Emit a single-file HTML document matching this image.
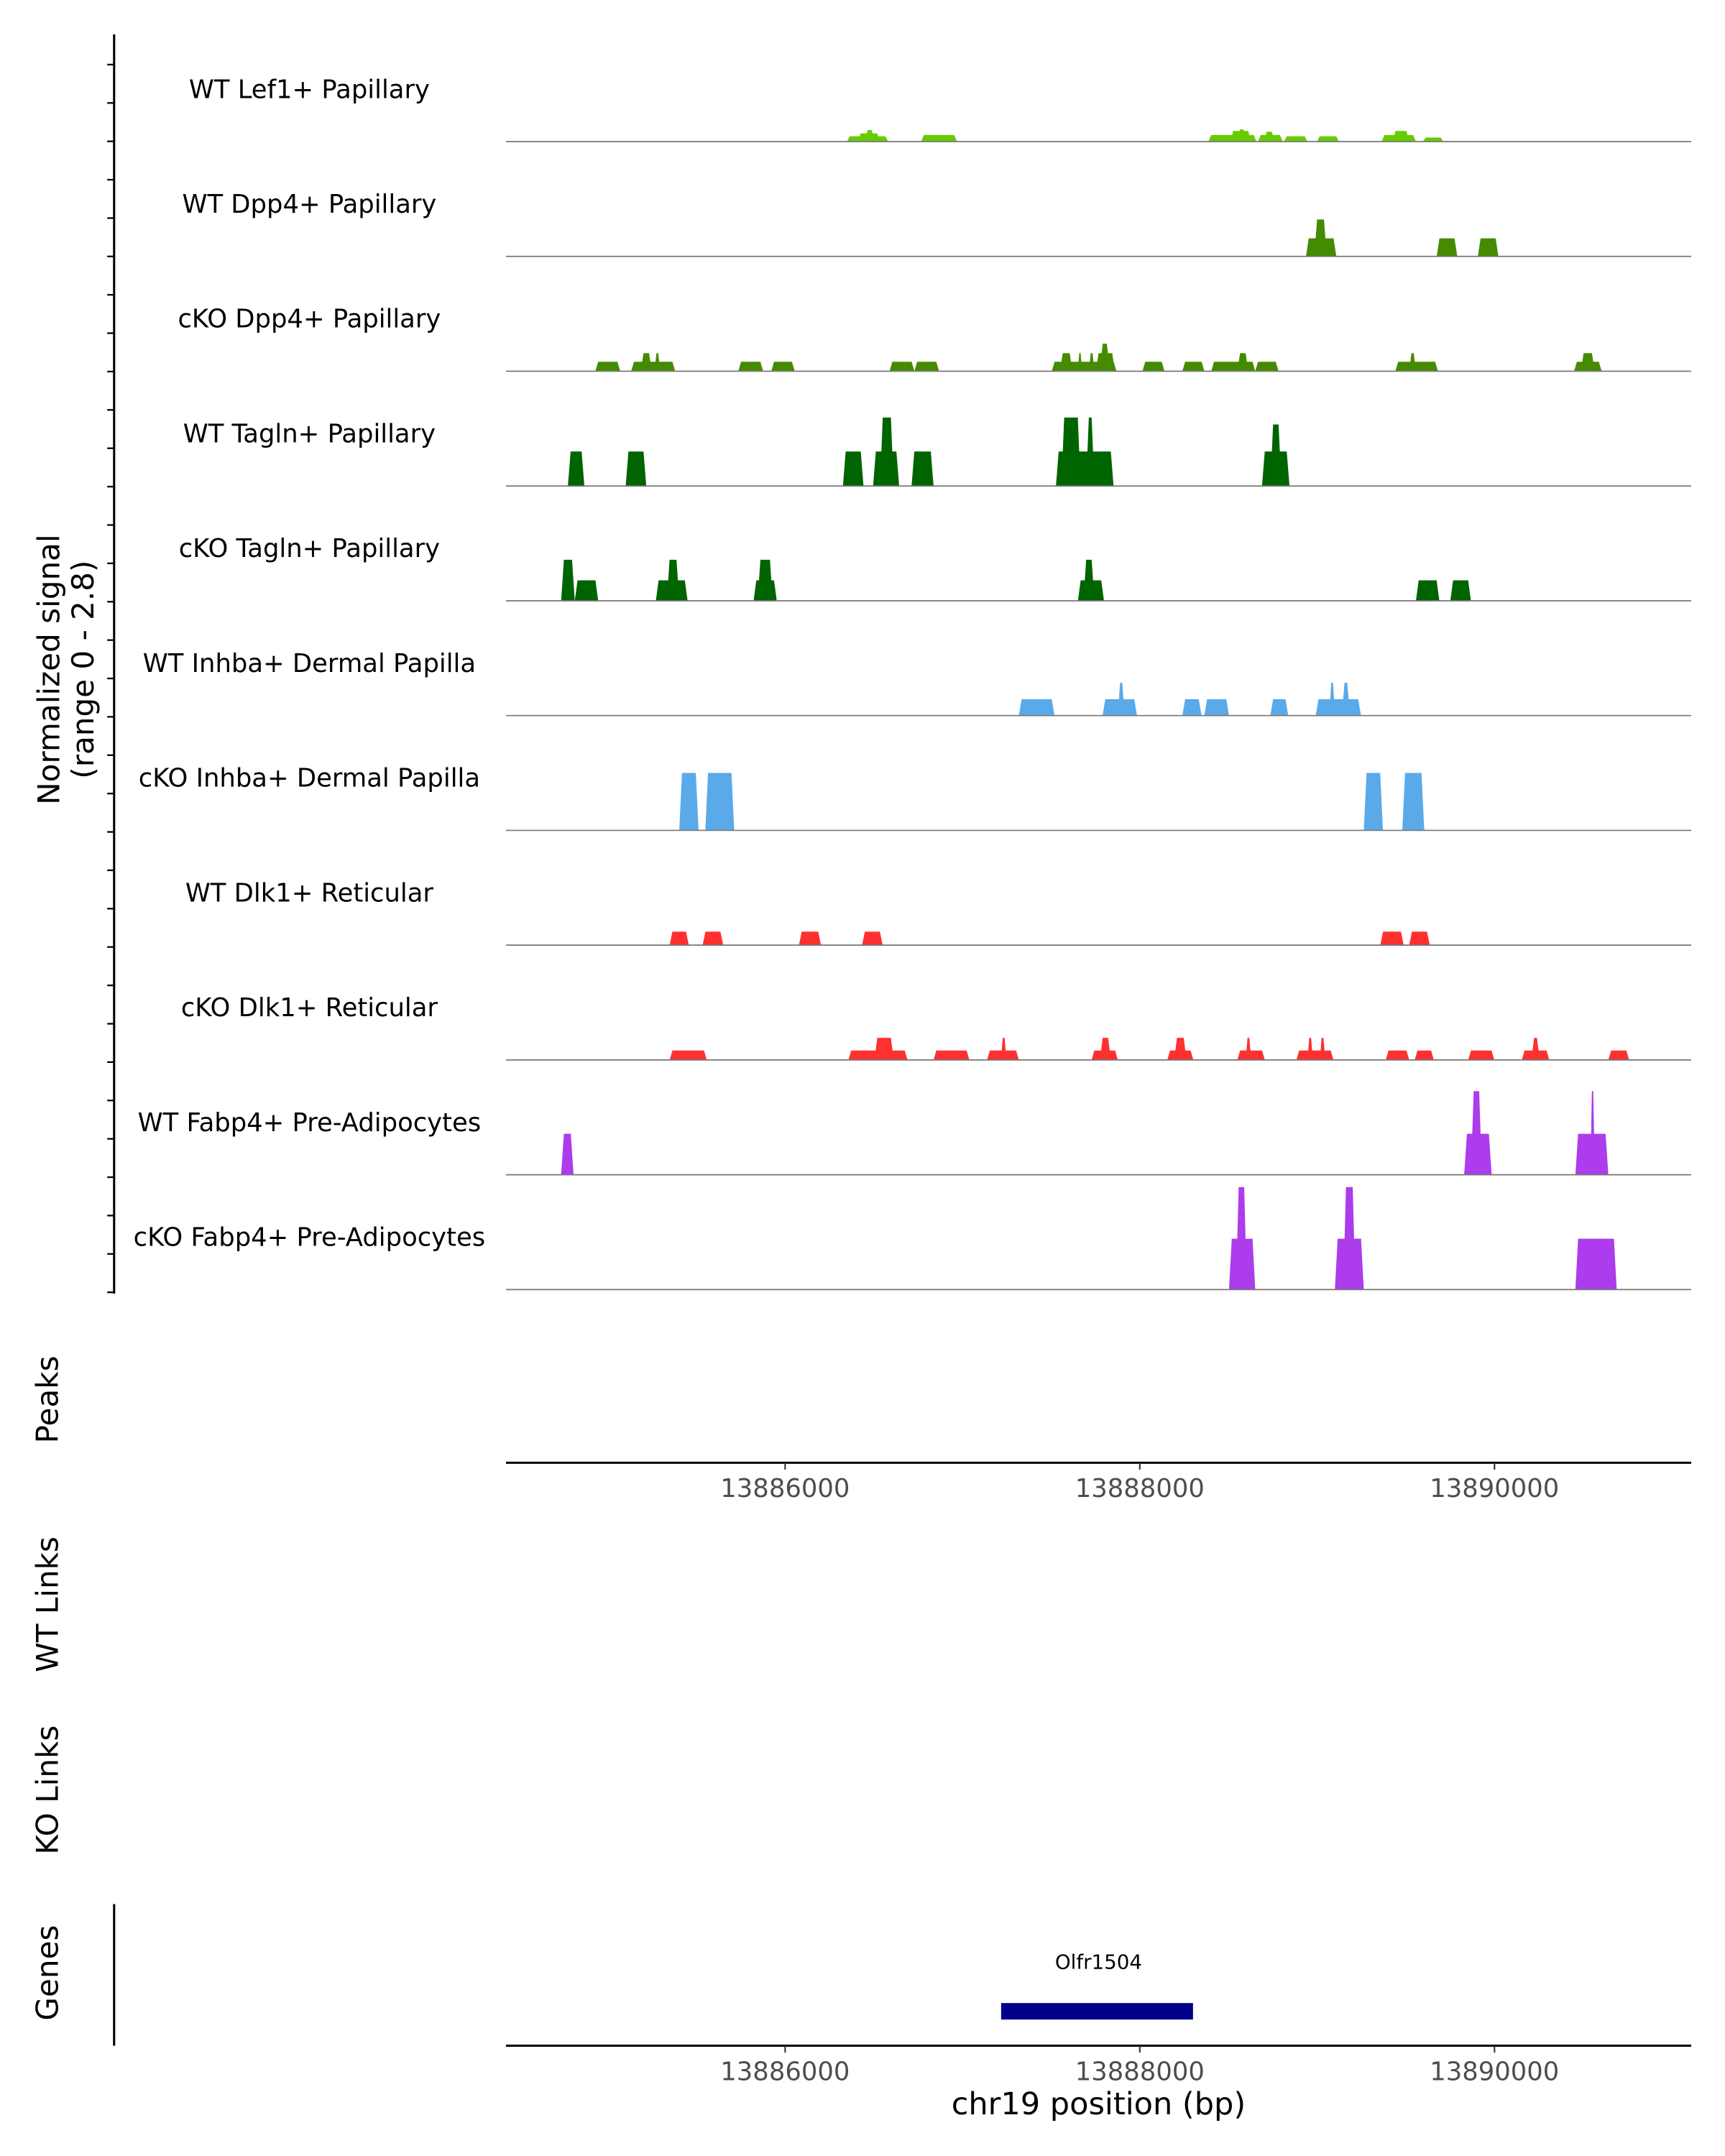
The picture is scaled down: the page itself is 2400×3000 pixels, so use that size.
<!DOCTYPE html>
<html><head><meta charset="utf-8"><style>
html,body{margin:0;padding:0;background:#fff;}
svg{display:block;font-family:"DejaVu Sans","Liberation Sans",sans-serif;}
</style></head><body>
<svg id="chart" width="2400" height="3000" viewBox="0 0 1254.6 1568.25" preserveAspectRatio="none" xmlns="http://www.w3.org/2000/svg">
<g id="static">
<line x1="83" y1="25" x2="83" y2="941" stroke="#000" stroke-width="1.6"/>
<g id="yticks"></g>
<text transform="translate(43,487) rotate(-90)" text-anchor="middle" font-size="22">Normalized signal</text>
<text transform="translate(68,487) rotate(-90)" text-anchor="middle" font-size="22">(range 0 - 2.8)</text>
<text transform="translate(42,1018) rotate(-90)" text-anchor="middle" font-size="22">Peaks</text>
<line x1="368" y1="1064" x2="1230" y2="1064" stroke="#000" stroke-width="1.6"/>
<text transform="translate(42,1167) rotate(-90)" text-anchor="middle" font-size="22">WT Links</text>
<text transform="translate(42,1302) rotate(-90)" text-anchor="middle" font-size="22">KO Links</text>
<text transform="translate(42,1435) rotate(-90)" text-anchor="middle" font-size="22">Genes</text>
<line x1="83" y1="1385" x2="83" y2="1488" stroke="#000" stroke-width="1.6"/>
<line x1="368" y1="1488" x2="1230" y2="1488" stroke="#000" stroke-width="1.6"/>
<text x="799" y="1538" text-anchor="middle" font-size="22.5">chr19 position (bp)</text>
<text x="799" y="1432" text-anchor="middle" font-size="14.5">Olfr1504</text>
</g>
<g id="tracks"></g>
<g id="axes"></g>
</svg>
<script>
// ---- data ----
const trackNames = ["WT Lef1+ Papillary","WT Dpp4+ Papillary","cKO Dpp4+ Papillary","WT Tagln+ Papillary","cKO Tagln+ Papillary","WT Inhba+ Dermal Papilla","cKO Inhba+ Dermal Papilla","WT Dlk1+ Reticular","cKO Dlk1+ Reticular","WT Fabp4+ Pre-Adipocytes","cKO Fabp4+ Pre-Adipocytes"];
const trackColors = ["#66cc00","#458b00","#458b00","#006400","#006400","#5aaaea","#5aaaea","#ff3030","#ff3030","#ac3cec","#ac3cec"];
const xTicks = [13886000, 13888000, 13890000];
const xDomain = [13884426, 13891109];
const yMax = 2.8;
// each block: [start bp, end bp, signal]
const lef1WT = [[13886349,13886581,0.13],[13886411,13886535,0.2],[13886450,13886504,0.28],[13886767,13886969,0.16],[13888387,13888658,0.16],[13888511,13888627,0.26],[13888550,13888600,0.3],[13888666,13888806,0.16],[13888700,13888760,0.24],[13888813,13888945,0.13],[13888999,13889123,0.13],[13889364,13889557,0.16],[13889426,13889519,0.26],[13889596,13889712,0.1]];
const dpp4WT = [[13888937,13889108,0.44],[13888984,13889054,0.9],[13889674,13889790,0.44],[13889906,13890022,0.44]];
const dpp4KO = [[13884930,13885070,0.23],[13885132,13885380,0.23],[13885186,13885248,0.44],[13885264,13885295,0.44],[13885736,13885876,0.23],[13885922,13886054,0.23],[13886589,13886729,0.23],[13886729,13886868,0.23],[13887504,13887868,0.23],[13887550,13887620,0.44],[13887651,13887674,0.44],[13887713,13887744,0.44],[13887752,13887860,0.44],[13887775,13887830,0.67],[13888015,13888139,0.23],[13888240,13888364,0.23],[13888403,13888651,0.23],[13888550,13888612,0.44],[13888651,13888782,0.23],[13889441,13889681,0.23],[13889519,13889557,0.44],[13890449,13890604,0.23],[13890487,13890565,0.44]];
const taglnWT = [[13884775,13884868,0.84],[13885101,13885217,0.84],[13886326,13886442,0.84],[13886496,13886643,0.84],[13886535,13886612,1.67],[13886713,13886837,0.84],[13887527,13887852,0.84],[13887558,13887666,1.67],[13887697,13887744,1.67],[13888689,13888844,0.84],[13888736,13888798,1.5]];
const taglnKO = [[13884737,13884814,1.0],[13884814,13884946,0.5],[13885271,13885450,0.5],[13885333,13885403,1.0],[13885822,13885953,0.5],[13885845,13885930,1.0],[13887651,13887798,0.5],[13887682,13887744,1.0],[13889557,13889689,0.5],[13889751,13889867,0.5]];
const inhbaWT = [[13887318,13887519,0.4],[13887790,13887984,0.4],[13887876,13887914,0.8],[13888240,13888348,0.4],[13888364,13888503,0.4],[13888736,13888837,0.4],[13888992,13889247,0.4],[13889069,13889100,0.8],[13889139,13889185,0.8]];
const inhbaKO = [[13885403,13885512,1.4],[13885550,13885713,1.4],[13889263,13889371,1.4],[13889480,13889604,1.4]];
const dlk1WT = [[13885349,13885457,0.33],[13885535,13885651,0.33],[13886078,13886202,0.33],[13886434,13886550,0.33],[13889356,13889488,0.33],[13889519,13889635,0.33]];
const dlk1KO = [[13885349,13885558,0.23],[13886357,13886690,0.23],[13886504,13886612,0.54],[13886837,13887039,0.23],[13887139,13887318,0.23],[13887217,13887248,0.54],[13887728,13887876,0.23],[13887775,13887837,0.54],[13888155,13888302,0.23],[13888194,13888263,0.54],[13888550,13888705,0.23],[13888597,13888628,0.54],[13888883,13889092,0.23],[13888945,13888976,0.54],[13889015,13889046,0.54],[13889387,13889519,0.23],[13889550,13889658,0.23],[13889852,13889999,0.23],[13890154,13890309,0.23],[13890208,13890255,0.54],[13890642,13890759,0.23]];
const fabp4WT = [[13884737,13884807,1.0],[13889829,13889984,1.0],[13889867,13889929,2.04],[13890456,13890642,1.0],[13890541,13890565,2.04]];
const fabp4KO = [[13888503,13888651,1.24],[13888542,13888604,2.5],[13889100,13889263,1.24],[13889147,13889216,2.5],[13890456,13890689,1.24]];
const trackData = [lef1WT,dpp4WT,dpp4KO,taglnWT,taglnKO,inhbaWT,inhbaKO,dlk1WT,dlk1KO,fabp4WT,fabp4KO];

// ---- scales ----
const NS = "http://www.w3.org/2000/svg";
const X0 = 368, X1 = 1230;
const xScale = bp => X0 + (bp - xDomain[0]) / (xDomain[1] - xDomain[0]) * (X1 - X0);
const firstBase = 103, trackStep = 83.5;
const hScale = v => v / yMax * trackStep;
function mk(tag, attrs, parent){const e=document.createElementNS(NS,tag);for(const k in attrs)e.setAttribute(k,attrs[k]);parent.appendChild(e);return e;}

const yt = document.getElementById('yticks');
for (let i = 0; i < 33; i++) {
  const y = 47 + i * (940 - 47) / 32;
  const t = mk('line', {x1:78, x2:83, y1:y, y2:y, stroke:'#000', 'stroke-width':1.2}, yt);
  
  
}

const tracks = document.getElementById('tracks');
trackNames.forEach((name, i) => {
  const base = firstBase + i * trackStep;
  const g = mk('g', {}, tracks);
  
  
  const lbl = mk('text', {x:225, y:base - 37, 'text-anchor':'middle', 'dominant-baseline':'middle', 'font-size':18.5}, g);
  lbl.textContent = name;
  
  
  trackData[i].forEach(b => {
    const xa = xScale(b[0]), xb = xScale(b[1]), h = hScale(b[2]);
    const s = Math.min(2, (xb - xa) / 3);
    const p = mk('polygon', {points:`${xa},${base} ${xa+s},${base-h} ${xb-s},${base-h} ${xb},${base}`, fill:trackColors[i]}, g);
    
    
  });
  const bl = mk('line', {x1:X0, x2:X1, y1:base, y2:base, stroke:'#777', 'stroke-width':0.9}, g);
  
  
});

const axes = document.getElementById('axes');
[1064, 1488].forEach(ay => {
  xTicks.forEach(t => {
    const x = xScale(t);
    const tk = mk('line', {x1:x, x2:x, y1:ay, y2:ay+5, stroke:'#333', 'stroke-width':1.1}, axes);
    
    
    const tl = mk('text', {x:x, y:ay+25, 'text-anchor':'middle', 'font-size':18.5, fill:'#4d4d4d'}, axes);
    tl.textContent = t;
    
    
  });
});
const gene = mk('rect', {x:xScale(13887218), y:1457, width:xScale(13888300)-xScale(13887218), height:12, fill:'#00008b'}, axes);


</script>
</body></html>
